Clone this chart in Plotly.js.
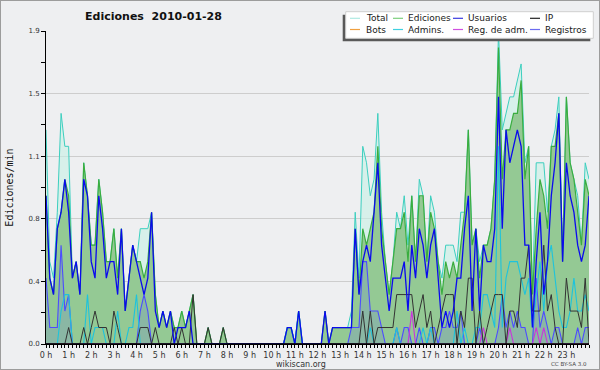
<!DOCTYPE html>
<html><head><meta charset="utf-8">
<script src="https://cdn.plot.ly/plotly-3.0.1.min.js"></script>
<style>
html,body{margin:0;padding:0;background:#eeeff1}
#wrap{position:relative;width:600px;height:370px}
#chart{width:600px;height:370px}
#frame{position:absolute;left:0;top:0;width:600px;height:370px;box-sizing:border-box;border:1px solid #9c9c9c;pointer-events:none}
</style>
</head><body><div id="wrap"><div id="chart"></div><div id="frame"></div></div>
<script>
// ---- data (10-minute bins, edits per minute) ----
const hourLabels = ["0 h","1 h","2 h","3 h","4 h","5 h","6 h","7 h","8 h","9 h","10 h","11 h","12 h","13 h","14 h","15 h","16 h","17 h","18 h","19 h","20 h","21 h","22 h","23 h"];
const yTickVals = [0, 0.38, 0.76, 1.14, 1.52, 1.9];
const yTickText = ["0.0","0.4","0.8","1.1","1.5","1.9"];

const total = [
1.3,.5,.4,.8,1.4,1.2,1.2,.4,.5,.3, 1.1,.9,.6,.6,1.0,.8,.5,.5,.7,.4,
.7,.2,.4,.6,.5,.7,.7,.7,.8,.3, .1,.2,.1,.2,.1,.1,.2,.1,.2,.3,
0,0,0,.1,0,0,0,.1,0,0, 0,0,0,0,0,0,0,0,0,0,
0,0,0,0,.1,.1,0,.2,0,0, 0,0,0,0,.2,0,.1,.1,.1,.1,
.1,.2,.8,.4,1.2,1.1,.9,1.0,1.4,.8, .5,.3,.5,.8,.7,.9,.6,.9,.5,1.0,
.9,.5,.9,.8,.5,.4,.6,.6,.6,.5, .8,.8,1.3,.6,.7,.5,.6,.6,.7,1.0,
1.9,1.3,1.4,1.5,1.5,1.6,1.7,1.1,1.2,.3, 1.1,1.1,1.1,.8,1.2,1.3,1.5,.5,1.5,1.1,
1.0,.9,.6,1.1,1.0];
const ediciones = [
.9,.4,.3,.7,.8,1.0,.9,.4,.5,.3, 1.1,.9,.6,.6,1.0,.8,.5,.5,.7,.4,
.7,.2,.4,.6,.5,.5,.4,.5,.8,.3, .1,.2,.1,.2,.1,.1,.2,.1,.2,.3,
0,0,0,.1,0,0,0,.1,0,0, 0,0,0,0,0,0,0,0,0,0,
0,0,0,0,.1,.1,0,.2,0,0, 0,0,0,0,.2,0,.1,.1,.1,.1,
.1,.1,.7,.3,.7,.6,.7,.8,1.2,.7, .5,.3,.5,.7,.7,.8,.5,.9,.5,.9,
.9,.5,.8,.7,.5,.3,.5,.4,.5,.4, .6,.8,1.3,.6,.7,.4,.6,.6,.7,1.0,
1.8,1.0,1.3,1.3,1.4,1.4,1.6,1.0,1.2,.3, .7,1.0,.9,.7,1.2,1.2,1.4,.5,1.5,1.1,
1.0,.8,.6,1.0,.9];
const usuarios = [
.9,.4,.3,.7,.8,1.0,.8,.4,.5,.3, 1.0,.9,.5,.4,.9,.7,.4,.5,.5,.3,
.7,.2,.4,.6,.5,.4,.3,.4,.8,.2, .1,.2,.1,.2,0,.1,.1,.1,.2,0,
0,0,0,0,0,0,0,0,0,0, 0,0,0,0,0,0,0,0,0,0,
0,0,0,0,.1,.1,0,.2,0,0, 0,0,0,0,.2,0,.1,.1,.1,.1,
.1,.1,.7,.3,.5,.6,.5,.8,1.1,.6, .4,.2,.4,.4,.4,.5,.2,.6,.4,.7,
.6,.4,.6,.7,.4,.1,.2,.1,.2,.4, .4,.7,.9,.2,.7,.2,.6,.5,.5,.7,
1.5,.7,1.3,1.1,1.2,1.3,1.2,.6,.6,.1, .5,.8,.3,.5,.9,1.1,1.4,.5,1.1,.9,
.8,.6,.5,.6,.9];
const ip = [
0,0,0,0,0,0,.1,0,0,0, .1,0,.1,.2,.1,.1,.1,0,.2,.1,
0,0,0,0,0,.1,.1,.1,0,.1, 0,0,0,0,.1,0,.1,0,0,.3,
0,0,0,.1,0,0,0,.1,0,0, 0,0,0,0,0,0,0,0,0,0,
0,0,0,0,0,0,0,0,0,0, 0,0,0,0,0,0,0,0,0,0,
0,0,0,0,.2,0,.2,0,.1,.1, .1,.1,.1,.3,.3,.3,.3,.3,.1,.2,
.3,.1,.2,0,.1,.2,.3,.3,.3,0, .2,.1,.4,.4,0,.2,0,.1,.2,.3,
.3,.3,0,.2,.2,.1,.4,.4,.6,.2, .2,.2,.6,.2,.3,.1,0,0,.4,.2,
.2,.2,.1,.4,0];
const bots = [
0,0,0,0,0,0,0,0,0,0, 0,0,0,0,0,0,0,0,0,0,
0,0,0,0,0,0,0,0,0,0, 0,0,0,0,0,0,0,0,0,0,
0,0,0,0,0,0,0,0,0,0, 0,0,0,0,0,0,0,0,0,0,
0,0,0,0,0,0,0,0,0,0, 0,0,0,0,0,0,0,0,0,0,
0,0,0,0,0,0,0,0,0,0, 0,0,0,0,0,0,0,0,0,0,
0,0,0,0,0,0,0,0,0,0, 0,0,0,0,0,0,0,0,0,0,
0,0,0,0,0,0,0,0,0,0, 0,0,0,0,0,0,0,0,0,0,
0,0,0,0,0];
const admins = [
0,0,0,0,.2,.3,.3,0,0,0, 0,.3,0,.1,.1,.1,0,0,0,.2,
0,0,.1,.1,.3,0,0,0,0,0, 0,0,0,0,0,0,0,0,0,0,
0,0,0,0,0,0,0,0,0,0, 0,0,0,0,0,0,0,0,0,0,
0,0,0,0,.1,.1,0,.2,0,0, 0,0,0,0,0,0,0,0,0,0,
0,0,0,0,0,0,.1,0,0,0, 0,0,0,.1,0,0,0,0,0,0,
.1,0,.1,0,0,0,0,0,0,.2, 0,.1,0,0,.1,.1,.3,.3,.2,.1,
1.2,.1,.4,.5,.5,.5,.4,.3,.4,.1, .3,.5,.2,.5,.6,.4,.2,.1,.1,.2,
.4,.2,.2,.3,.2];
const regAdm = [
0,0,0,0,0,0,0,0,0,0, 0,0,0,0,0,0,0,0,0,0,
0,0,0,0,0,0,0,0,0,0, 0,0,0,0,0,0,0,0,0,0,
0,0,0,0,0,0,0,0,0,0, 0,0,0,0,0,0,0,0,0,0,
0,0,0,0,0,0,0,0,0,0, 0,0,0,0,0,0,0,0,0,0,
0,0,0,0,0,0,0,0,0,0, 0,0,0,0,0,0,0,.2,0,0,
0,0,0,0,0,0,0,0,0,0, 0,0,0,0,0,0,.1,0,0,0,
0,0,0,.1,0,0,0,0,0,0, .1,0,.1,0,0,0,0,0,0,0,
0,0,0,0,0];
const registros = [
.4,.1,.1,.1,.6,.2,.3,0,0,0, 0,0,0,0,0,0,0,0,0,0,
0,0,0,0,0,.2,.3,.2,0,0, 0,0,0,0,0,0,0,0,0,0,
0,0,0,0,0,0,0,0,0,0, 0,0,0,0,0,0,0,0,0,0,
0,0,0,0,0,0,0,0,0,0, 0,0,0,0,0,0,0,0,0,0,
0,.1,.1,.1,.5,.5,.2,.2,.2,.1, 0,0,0,.1,0,.1,.1,0,0,.1,
0,0,.1,.1,0,.1,.1,.2,.1,.1, .2,0,0,0,0,.1,0,0,0,0,
.1,.3,.1,.2,.1,.2,.1,.1,0,0, .4,.1,.2,.1,0,.1,.1,0,0,0,
0,.1,0,.1,.1];

// x positions: one bin every 10 minutes, in hours
const xs = total.map((_, i) => i / 6);

// ---- geometry helpers (pixel -> paper) ----
const PL = 46, PR = 589, PT = 31, PB = 344;
const px = X => (X - PL) / (PR - PL);
const py = Y => (PB - Y) / (PB - PT);

function tr(y, color, width, extra) {
  return Object.assign({x: xs, y: y, type: 'scatter', mode: 'lines',
    line: {color: color, width: width, shape: 'linear'}, hoverinfo: 'skip', showlegend: false}, extra || {});
}
const data = [
  tr(total, '#3ccfbf', 1, {fill: 'tozeroy', fillcolor: 'rgba(200,240,230,0.6)', name: 'Total'}),
  tr(ediciones, '#3aad3f', 1.2, {fill: 'tozeroy', fillcolor: '#94c994', name: 'Ediciones'}),
  tr(bots, '#f0a040', 1, {name: 'Bots'}),
  tr(registros, '#4c4cff', 1.1, {fill: 'tozeroy', fillcolor: 'rgba(80,80,255,0.15)', name: 'Registros'}),
  tr(admins, '#1ec3dc', 1.1, {name: 'Admins.'}),
  tr(regAdm, '#cc33dd', 1.1, {name: 'Reg. de adm.'}),
  tr(ip, '#333333', 1, {name: 'IP'}),
  tr(usuarios, '#0a0aee', 1.3, {name: 'Usuarios'})
];

// ---- manual legend ----
const legNames = ["Total","Ediciones","Usuarios","IP","Bots","Admins.","Reg. de adm.","Registros"];
const legColors = ["#aee9e2","#7ccf7c","#3a3ae0","#222222","#f0a040","#3fd0e0","#d050e0","#6c6cf0"];
const colLine = [350, 393, 453, 530];
const colText = [365, 407, 467, 544];
const rowY = [18.3, 29.5];

const shapes = [
  {type: 'rect', xref: 'paper', yref: 'paper', x0: px(342.7), x1: px(590.3), y0: py(14.7), y1: py(41.3),
   fillcolor: '#595959', line: {width: 0}, layer: 'above'},
  {type: 'rect', xref: 'paper', yref: 'paper', x0: px(345.7), x1: px(593.3), y0: py(11.7), y1: py(38.3),
   fillcolor: '#ffffff', line: {color: '#cfcfcf', width: 1}, layer: 'above'},
  // baseline drawn over zero-valued series
  {type: 'line', xref: 'paper', yref: 'paper', x0: 0, x1: 1, y0: 0, y1: 0,
   line: {color: '#000', width: 1.6}, layer: 'above'}
];
const annotations = [];
legNames.forEach((n, k) => {
  const c = k % 4, r = Math.floor(k / 4);
  shapes.push({type: 'line', xref: 'paper', yref: 'paper', x0: px(colLine[c]), x1: px(colLine[c] + 10),
    y0: py(rowY[r]), y1: py(rowY[r]), line: {color: legColors[k], width: 1.2}, layer: 'above'});
  annotations.push({xref: 'paper', yref: 'paper', x: px(colText[c]), y: py(rowY[r]), xanchor: 'left', yanchor: 'middle',
    text: n, showarrow: false, borderpad: 0, font: {family: 'DejaVu Sans', size: 9, color: '#1a1a1a'}});
});
annotations.push({xref: 'paper', yref: 'paper', x: px(300.5), y: py(364.5), xanchor: 'center', yanchor: 'middle',
  text: 'wikiscan.org', showarrow: false, borderpad: 0, font: {family: 'DejaVu Sans', size: 8, color: '#333'}});
annotations.push({xref: 'paper', yref: 'paper', x: px(569), y: py(364), xanchor: 'center', yanchor: 'middle',
  text: 'CC BY-SA 3.0', showarrow: false, borderpad: 0, font: {family: 'DejaVu Sans', size: 5.5, color: '#444'}});

const layout = {
  width: 600, height: 370,
  margin: {l: PL, r: 600 - PR, t: PT, b: 370 - PB, pad: 0},
  paper_bgcolor: '#eeeff1', plot_bgcolor: '#eeeff1',
  showlegend: false,
  title: {text: 'Ediciones \u00a02010-01-28', xref: 'container', yref: 'container',
    x: 153.5 / 600, xanchor: 'center', y: 1 - 16.5 / 370, yanchor: 'middle',
    font: {family: 'DejaVu Sans', size: 11, weight: 'bold', color: '#111'}},
  xaxis: {range: [0, 24], tickmode: 'array', tickvals: hourLabels.map((_, h) => h), ticktext: hourLabels,
    ticks: 'outside', ticklen: 3, tickcolor: '#000', tickwidth: 1,
    showline: true, linecolor: '#000', linewidth: 1, showgrid: false, zeroline: false,
    tickfont: {family: 'DejaVu Sans', size: 8, color: '#333'},
    minor: {tickmode: 'linear', tick0: 0, dtick: 1 / 6, ticks: 'outside', ticklen: 3, tickcolor: '#000', showgrid: false},
    fixedrange: true},
  yaxis: {range: [0, 1.9], tickmode: 'array', tickvals: yTickVals, ticktext: yTickText,
    ticks: 'outside', ticklen: 4, tickcolor: '#000', tickwidth: 1,
    showline: true, linecolor: '#000', linewidth: 1, showgrid: true, gridcolor: '#cdcdcd', gridwidth: 1, zeroline: false,
    tickfont: {family: 'DejaVu Sans', size: 7, color: '#333'},
    minor: {tickvals: [0.19, 0.57, 0.95, 1.33, 1.71], ticks: 'outside', ticklen: 4, tickcolor: '#000', showgrid: false},
    title: {text: 'Ediciones/min', standoff: 12, font: {family: 'DejaVu Sans Mono', size: 10, color: '#111'}},
    automargin: false, fixedrange: true},
  shapes: shapes,
  annotations: annotations
};

Plotly.newPlot('chart', data, layout, {displayModeBar: false, staticPlot: true});
</script></body></html>
